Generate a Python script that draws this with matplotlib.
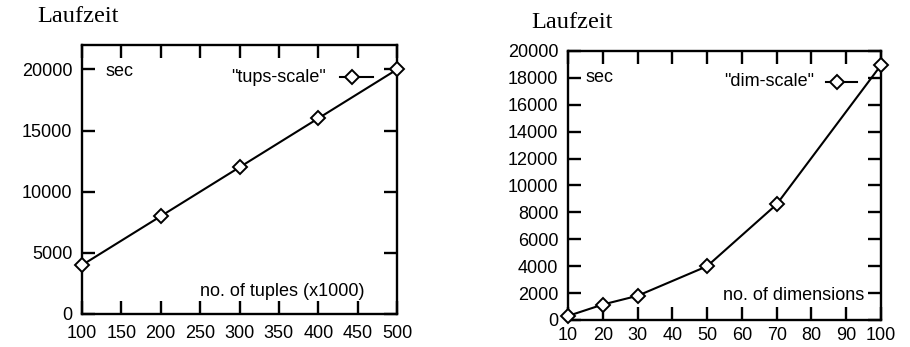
import matplotlib
matplotlib.use("Agg")
import matplotlib.pyplot as plt
import numpy as np

# Data
tups_x = [100, 200, 300, 400, 500]
tups_y = [4000, 8000, 12000, 16000, 20000]
dim_x = [10, 20, 30, 50, 70, 100]
dim_y = [300, 1150, 1800, 4000, 8600, 18950]

tups_xticks = list(range(100, 501, 50))
tups_yticks = [0, 5000, 10000, 15000, 20000]
dim_xticks = list(range(10, 101, 10))
dim_yticks = list(range(0, 20001, 2000))

W, H = 910, 347
SANS = "Liberation Sans"
SERIF = "Liberation Serif"
FS = 13

fig = plt.figure(figsize=(W / 100, H / 100), dpi=100)

def box(l, t, r, b):
    return [l / W, 1 - b / H, (r - l) / W, (b - t) / H]

def fp(x, y):
    return (x / W, 1 - y / H)

def style(ax, xpad):
    for s in ax.spines.values():
        s.set_linewidth(1.7)
    ax.tick_params(direction="in", length=9.5, width=1.7, top=True, right=True,
                   labelsize=FS, pad=7)
    ax.tick_params(axis="x", pad=xpad)
    for lab in ax.get_xticklabels() + ax.get_yticklabels():
        lab.set_fontfamily(SANS)

# Left chart
ax1 = fig.add_axes(box(82, 45, 397, 314))
ax1.plot(tups_x, tups_y, color="black", lw=1.5, marker="D", ms=7.5,
         mfc="white", mec="black", mew=1.4, clip_on=False, zorder=5)
ax1.set_xlim(100, 500)
ax1.set_ylim(0, 22000)
ax1.set_xticks(tups_xticks)
ax1.set_yticks(tups_yticks)
style(ax1, 8)

# Right chart
ax2 = fig.add_axes(box(568, 51, 881, 320))
ax2.plot(dim_x, dim_y, color="black", lw=1.5, marker="D", ms=7.5,
         mfc="white", mec="black", mew=1.4, clip_on=False, zorder=5)
ax2.set_xlim(10, 100)
ax2.set_ylim(0, 20000)
ax2.set_xticks(dim_xticks)
ax2.set_yticks(dim_yticks)
style(ax2, 5)

# Annotations
def ftext(x, y, s, ha="left", family=SANS, size=FS):
    fig.text(*fp(x, y), s, ha=ha, va="center", family=family, size=size)

ftext(37, 17, "Laufzeit", family=SERIF, size=17.5)
ftext(531, 22, "Laufzeit", family=SERIF, size=17.5)
ftext(106, 71, "sec")
ftext(586, 78, "sec")
ftext(364, 292, "no. of tuples (x1000)", ha="right")
ftext(864, 295, "no. of dimensions", ha="right")

# Legend keys
ftext(326, 78, '"tups-scale"', ha="right")
fig.add_artist(plt.Line2D([340 / W, 373 / W], [1 - 77 / H] * 2, color="black", lw=1.5))
fig.add_artist(plt.Line2D([352 / W], [1 - 77 / H], marker="D", ms=7.5, mfc="white",
                          mec="black", mew=1.4, color="black"))
ftext(814, 82, '"dim-scale"', ha="right")
fig.add_artist(plt.Line2D([826 / W, 857 / W], [1 - 82 / H] * 2, color="black", lw=1.5))
fig.add_artist(plt.Line2D([837 / W], [1 - 82 / H], marker="D", ms=7.5, mfc="white",
                          mec="black", mew=1.4, color="black"))

fig.savefig("out.png", dpi=100)
